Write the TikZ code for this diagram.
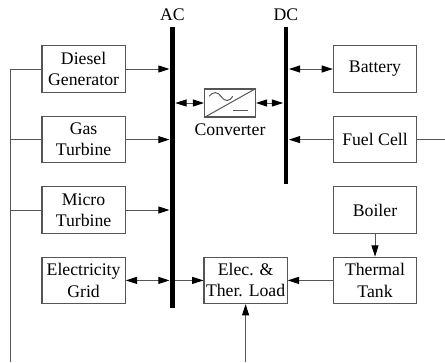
\documentclass[tikz,border=0pt]{standalone}
\usepackage{fontspec}
\setmainfont{Liberation Serif}
\usepackage{xcolor}
\usetikzlibrary{arrows.meta,positioning,calc}
\definecolor{grid@line}{RGB}{85,85,85}
\tikzset{
  gridpic/.style={
    >={Triangle[length=8pt,width=5pt,color=black]},
    line width=0.7pt,
    every node/.style={font=\fontsize{12.6}{15}\selectfont}
  },
  unitbox/.style={                 % generation, storage and load blocks
    draw=grid@line, line width=0.8pt,
    align=center,
    inner sep=0pt,
    minimum width=2.08cm,
    minimum height=1.16cm
  },
  busbar/.style={fill=black, inner sep=0pt, minimum width=0.12cm},
  flow/.style={->, draw=grid@line},
  biflow/.style={<->, draw=grid@line},
  feed/.style={draw=grid@line}
}
\begin{document}
\begin{tikzpicture}[gridpic]
\useasboundingbox (0,0) rectangle (11.125,9.05);
% Bus bars
\node[busbar, minimum height=7.03cm, label={[yshift=2.5pt, inner sep=1pt]above:AC}] (acbus) at (4.31,4.86) {};
\node[busbar, minimum height=3.93cm, label={[yshift=2.5pt, inner sep=1pt]above:DC}] (dcbus) at (7.15,6.41) {};

% Sources on the AC side
\node[unitbox, align=center] (diesel) at (2.09,7.325) {Diesel\\Generator};
\node[unitbox] (gas) at (2.09,5.56) {Gas\\Turbine};
\node[unitbox] (micro) at (2.09,3.8) {Micro\\Turbine};
\node[unitbox] (utility) at (2.09,2.04) {Electricity\\Grid};

% Blocks on the DC side
\node[unitbox] (battery) at (9.375,7.325) {Battery};
\node[unitbox] (fuelcell) at (9.375,5.56) {Fuel Cell};
\node[unitbox] (boiler) at (9.375,3.8) {Boiler};
\node[unitbox] (tank) at (9.375,2.04) {Thermal\\Tank};
\node[unitbox] (load) at (6.14,2.04) {Elec. \&\\Ther. Load};

% Converter symbol
\node[draw=grid@line, line width=0.8pt, minimum width=1.27cm, minimum height=0.7cm, inner sep=0pt] (conv) at (5.75,6.475) {};
\node[below=0.15cm of conv, inner sep=0pt] (convlabel) {Converter};
\draw[feed] (conv.south west) -- (conv.north east);
\draw[feed] ($(conv.center)+(-0.52,0.17)$) .. controls ($(conv.center)+(-0.42,0.3)$) and ($(conv.center)+(-0.3,0.28)$) .. ($(conv.center)+(-0.22,0.16)$)
  .. controls ($(conv.center)+(-0.14,0.03)$) and ($(conv.center)+(0,0.03)$) .. ($(conv.center)+(0.07,0.17)$);
\draw[feed] ($(conv.center)+(0.08,-0.175)$) -- ($(conv.center)+(0.45,-0.175)$);

% Arrows into the bus bars
\foreach \src in {diesel,gas,micro} {
  \draw[flow] (\src.east) -- (\src.east -| acbus.west);
}
\draw[biflow] (utility.east) -- (utility.east -| acbus.west);
\draw[flow] (acbus.east |- load.west) -- (load.west);
\draw[biflow] (acbus.east |- conv.west) -- (conv.west);
\draw[biflow] (conv.east) -- (dcbus.west |- conv.east);
\draw[biflow] (dcbus.east |- battery.west) -- (battery.west);
\draw[flow] (fuelcell.west) -- (dcbus.east |- fuelcell.west);

% Heat path
\draw[flow] (boiler.south) -- (tank.north);
\draw[flow] (tank.west) -- (load.east);

% Fuel supply rail
\coordinate (railtop) at (0.25,7.325);
\coordinate (railend) at (0.25,0);
\coordinate (fuelend) at (11.125,5.56);
\coordinate (loadend) at (load.south |- railend);
\draw[feed] (diesel.west) -- (railtop) -- (railend);
\draw[feed] (gas.west) -- (gas.west -| railend);
\draw[feed] (micro.west) -- (micro.west -| railend);
\draw[feed] (fuelcell.east) -- (fuelend);
\draw[flow] (loadend) -- (load.south);
\end{tikzpicture}
\end{document}
